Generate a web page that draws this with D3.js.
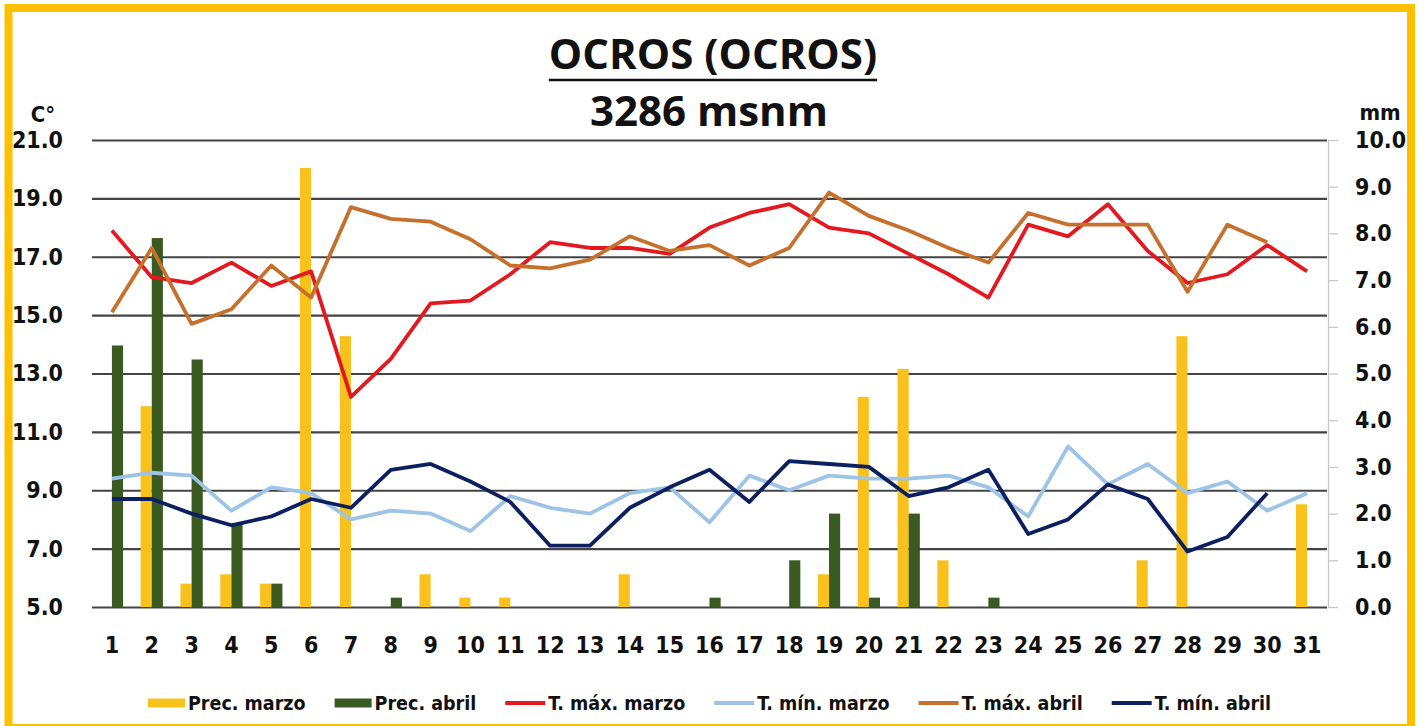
<!DOCTYPE html>
<html>
<head>
<meta charset="utf-8">
<script src="https://cdn.jsdelivr.net/npm/d3@7"></script>
<style>
  body { margin: 0; background: #fff; }
  svg { display: block; }
  .tick text { font-family: 'DejaVu Sans Condensed', 'DejaVu Sans', sans-serif; font-weight: bold; fill: #111; }
</style>
</head>
<body>
<div id="chart"></div>
<script>
// days of the month
const days = d3.range(1, 32);

// precipitation (mm)
const precMarzo = [0, 4.3, 0.5, 0.7, 0.5, 9.4, 5.8, 0, 0.7, 0.2, 0.2, 0, 0, 0.7, 0, 0, 0, 0, 0.7, 4.5, 5.1, 1.0, 0, 0, 0, 0, 1.0, 5.8, 0, 0, 2.2];
const precAbril = [5.6, 7.9, 5.3, 1.8, 0.5, 0, 0, 0.2, 0, 0, 0, 0, 0, 0, 0, 0.2, 0, 1.0, 2.0, 0.2, 2.0, 0, 0.2, 0, 0, 0, 0, 0, 0, 0];

// temperatures (°C)
const tMaxMarzo = [17.9, 16.3, 16.1, 16.8, 16.0, 16.5, 12.2, 13.5, 15.4, 15.5, 16.4, 17.5, 17.3, 17.3, 17.1, 18.0, 18.5, 18.8, 18.0, 17.8, 17.1, 16.4, 15.6, 18.1, 17.7, 18.8, 17.2, 16.1, 16.4, 17.4, 16.5];
const tMinMarzo = [9.4, 9.6, 9.5, 8.3, 9.1, 8.9, 8.0, 8.3, 8.2, 7.6, 8.8, 8.4, 8.2, 8.9, 9.1, 7.9, 9.5, 9.0, 9.5, 9.4, 9.4, 9.5, 9.1, 8.1, 10.5, 9.2, 9.9, 8.9, 9.3, 8.3, 8.9];
const tMaxAbril = [15.1, 17.3, 14.7, 15.2, 16.7, 15.6, 18.7, 18.3, 18.2, 17.6, 16.7, 16.6, 16.9, 17.7, 17.2, 17.4, 16.7, 17.3, 19.2, 18.4, 17.9, 17.3, 16.8, 18.5, 18.1, 18.1, 18.1, 15.8, 18.1, 17.5];
const tMinAbril = [8.7, 8.7, 8.2, 7.8, 8.1, 8.7, 8.4, 9.7, 9.9, 9.3, 8.6, 7.1, 7.1, 8.4, 9.1, 9.7, 8.6, 10.0, 9.9, 9.8, 8.8, 9.1, 9.7, 7.5, 8.0, 9.2, 8.7, 6.9, 7.4, 8.9];

// axis ticks
const tempTicks = [5, 7, 9, 11, 13, 15, 17, 19, 21];
const precTicks = d3.range(0, 11);

const width = 1424, height = 726;
const plot = { left: 92, right: 1327, top: 140, bottom: 607 };

const svg = d3.select("#chart").append("svg")
  .attr("width", width)
  .attr("height", height);

svg.append("rect").attr("width", width).attr("height", height).attr("fill", "#fff");

// gold frame
svg.append("rect")
  .attr("x", 8.5).attr("y", 8)
  .attr("width", 1402.5).attr("height", 720)
  .attr("fill", "none")
  .attr("stroke", "#FFC000")
  .attr("stroke-width", 8);

// scales
const x0 = d3.scaleBand()
  .domain(days)
  .range([plot.left, plot.right])
  .paddingInner(0.44)
  .paddingOuter(0.22);

const x1 = d3.scaleBand()
  .domain(["marzo", "abril"])
  .range([0, x0.bandwidth()]);

const yT = d3.scaleLinear().domain([5, 21]).range([plot.bottom, plot.top]);
const yP = d3.scaleLinear().domain([0, 10]).range([plot.bottom, plot.top]);

const cx = d => x0(d) + x0.bandwidth() / 2;

// grid lines
svg.append("g")
  .attr("transform", `translate(${plot.left},0)`)
  .call(d3.axisLeft(yT).tickValues(tempTicks).tickSize(-(plot.right - plot.left)).tickFormat(""))
  .call(g => g.select(".domain").remove())
  .selectAll("line")
  .attr("stroke", "#444")
  .attr("stroke-width", 2.2);

// left axis labels
svg.append("g")
  .attr("transform", `translate(${plot.left},0)`)
  .call(d3.axisLeft(yT).tickValues(tempTicks).tickSize(0).tickPadding(29).tickFormat(d3.format(".1f")))
  .call(g => g.select(".domain").remove())
  .selectAll("text").style("font-size", "23px");

// right axis
svg.append("g")
  .attr("transform", `translate(${plot.right + 1},0)`)
  .call(d3.axisRight(yP).tickValues(precTicks).tickSize(10).tickSizeOuter(0).tickPadding(17).tickFormat(d3.format(".1f")))
  .call(g => g.select(".domain").attr("stroke", "#c8c8c8").attr("stroke-width", 1.3))
  .call(g => g.selectAll("line").attr("stroke", "#c8c8c8").attr("stroke-width", 1.3))
  .selectAll("text").style("font-size", "23px");

// x axis labels
svg.append("g")
  .attr("transform", `translate(0,${plot.bottom})`)
  .call(d3.axisBottom(x0).tickSize(0).tickPadding(30))
  .call(g => g.select(".domain").remove())
  .selectAll("text").style("font-size", "23px");

// unit labels
svg.append("text")
  .attr("x", 43).attr("y", 122)
  .attr("text-anchor", "middle")
  .style("font-family", "'DejaVu Sans Condensed', 'DejaVu Sans', sans-serif")
  .style("font-weight", "bold").style("font-size", "22px").attr("fill", "#111")
  .text("C°");

svg.append("text")
  .attr("x", 1380).attr("y", 120)
  .attr("text-anchor", "middle")
  .style("font-family", "'DejaVu Sans Condensed', 'DejaVu Sans', sans-serif")
  .style("font-weight", "bold").style("font-size", "22px").attr("fill", "#111")
  .text("mm");

// bars
const barData = [
  { key: "marzo", values: precMarzo, color: "#F8C11C" },
  { key: "abril", values: precAbril, color: "#3A5A22" }
];

barData.forEach(s => {
  svg.append("g").selectAll("rect")
    .data(s.values.map((v, i) => ({ day: days[i], v })).filter(d => d.v > 0))
    .enter().append("rect")
    .attr("x", d => x0(d.day) + x1(s.key))
    .attr("y", d => yP(d.v))
    .attr("width", x1.bandwidth())
    .attr("height", d => yP(0) - yP(d.v))
    .attr("fill", s.color);
});

// lines
const lineData = [
  { name: "T. máx. marzo", values: tMaxMarzo, color: "#E3191F" },
  { name: "T. mín. marzo", values: tMinMarzo, color: "#9DC3E6" },
  { name: "T. máx. abril", values: tMaxAbril, color: "#C5702D" },
  { name: "T. mín. abril", values: tMinAbril, color: "#0C1F5E" }
];

const line = d3.line()
  .x((d, i) => cx(days[i]))
  .y(d => yT(d));

lineData.forEach(s => {
  svg.append("path")
    .datum(s.values)
    .attr("fill", "none")
    .attr("stroke", s.color)
    .attr("stroke-width", 3.8)
    .attr("stroke-linejoin", "round")
    .attr("d", line);
});

// title
const title = svg.append("text")
  .attr("x", 713).attr("y", 69)
  .attr("text-anchor", "middle")
  .style("font-family", "'Open Sans', sans-serif")
  .style("font-weight", "bold").style("font-size", "42px").attr("fill", "#111")
  .text("OCROS (OCROS)");

const tw = title.node().getComputedTextLength();
svg.append("line")
  .attr("x1", 713 - tw / 2).attr("x2", 713 + tw / 2)
  .attr("y1", 80).attr("y2", 80)
  .attr("stroke", "#111").attr("stroke-width", 2.6);

svg.append("text")
  .attr("x", 709).attr("y", 126)
  .attr("text-anchor", "middle")
  .style("font-family", "'Open Sans', sans-serif")
  .style("font-weight", "bold").style("font-size", "42px").attr("fill", "#111")
  .text("3286 msnm");

// legend
const legendItems = [
  { name: "Prec. marzo", color: "#F8C11C", type: "bar" },
  { name: "Prec. abril", color: "#3A5A22", type: "bar" },
  ...lineData.map(d => ({ name: d.name, color: d.color, type: "line" }))
];

let lx = 148;
const ly = 703;
legendItems.forEach(item => {
  const sw = item.type === "bar" ? 37 : 40;
  if (item.type === "bar") {
    svg.append("rect")
      .attr("x", lx).attr("y", ly - 4.5)
      .attr("width", sw).attr("height", 9)
      .attr("fill", item.color);
  } else {
    svg.append("line")
      .attr("x1", lx).attr("x2", lx + sw)
      .attr("y1", ly).attr("y2", ly)
      .attr("stroke", item.color).attr("stroke-width", 4);
  }
  const t = svg.append("text")
    .attr("x", lx + sw + 3).attr("y", ly + 7)
    .style("font-family", "'DejaVu Sans Condensed', 'DejaVu Sans', sans-serif")
    .style("font-weight", "bold").style("font-size", "19.5px").attr("fill", "#111")
    .text(item.name);
  lx += sw + 3 + t.node().getComputedTextLength() + 29;
});
</script>
</body>
</html>
